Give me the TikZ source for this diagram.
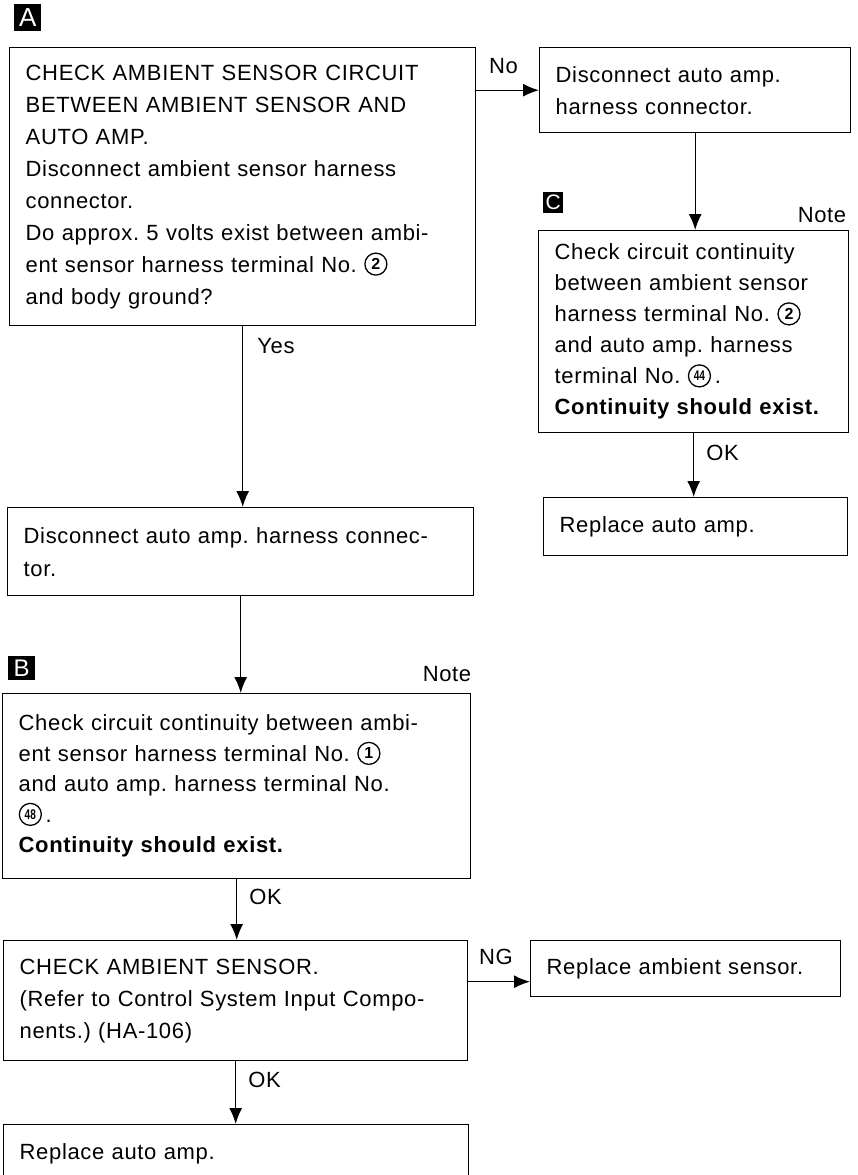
\documentclass[tikz,border=0pt]{standalone}
\usepackage{fontspec}
\usepackage{graphicx}
\setmainfont{Liberation Sans}[LetterSpace=3]
\newfontfamily\cnfont{Liberation Sans}
\usetikzlibrary{arrows.meta}
\newcommand{\cnum}[1]{\tikz[baseline={([yshift=-8pt]cn.center)}]\node[draw,circle,line width=1.3pt,inner sep=0pt,minimum size=22pt,anchor=center,align=center,text width=,fill=none,font=\cnfont\bfseries\fontsize{16}{16}\selectfont](cn){#1};}
\newcommand{\cnumm}[1]{\tikz[baseline={([yshift=-8pt]cn.center)}]\node[draw,circle,line width=1.3pt,inner sep=0pt,minimum size=22pt,anchor=center,align=center,text width=,fill=none,font=\cnfont\bfseries\fontsize{14}{14}\selectfont](cn){\scalebox{0.72}[1]{#1}};}
\tikzset{
  box/.style={draw, line width=1.4pt, anchor=north west, inner xsep=16pt, inner ysep=0pt, align=left, font=\fontsize{22}{32}\selectfont},
  arr/.style={line width=1.4pt, -{Latex[length=16pt,width=13pt]}},
  lbl/.style={font=\fontsize{22}{25}\selectfont, inner sep=0pt},
  tag/.style={fill=black, text=white, inner sep=0pt, anchor=north west, font=\cnfont\fontsize{26}{26}\selectfont},
}
\begin{document}
\frenchspacing
\begin{tikzpicture}[x=1pt,y=-1pt]
\useasboundingbox (0,0) rectangle (857,1175);
\clip (0,0) rectangle (857,1175);

% tags
\node[tag, minimum width=27pt, minimum height=27pt] (tA) at (14,4) {A};
\node[tag, minimum width=27pt, minimum height=24pt, font=\cnfont\fontsize{24}{24}\selectfont] (tB) at (8,656) {B};
\node[tag, minimum width=20pt, minimum height=21pt, font=\cnfont\fontsize{21}{21}\selectfont] (tC) at (543,192) {C};

% boxes
\node[box, minimum width=466pt, minimum height=278pt, text width=434pt] (A) at (9,47) {%
\mbox{CHECK AMBIENT SENSOR CIRCUIT}\\
\mbox{BETWEEN AMBIENT SENSOR AND}\\
\mbox{AUTO AMP.}\\
\mbox{Disconnect ambient sensor harness}\\
\mbox{connector.}\\
\mbox{Do approx. 5 volts exist between ambi-}\\
\mbox{ent sensor harness terminal No. \cnum{2}}\\
\mbox{and body ground?}};

\node[box, minimum width=311pt, minimum height=85pt, text width=279pt] (D) at (539,47) {%
\mbox{Disconnect auto amp.}\\
\mbox{harness connector.}};

\node[box, minimum width=310pt, minimum height=202pt, text width=278pt, font=\fontsize{22}{31}\selectfont] (C) at (538,230) {%
\mbox{Check circuit continuity}\\
\mbox{between ambient sensor}\\
\mbox{harness terminal No. \cnum{2}}\\
\mbox{and auto amp. harness}\\
\mbox{terminal No. \cnumm{44}\,.}\\
\mbox{\bfseries Continuity should exist.}};

\node[box, minimum width=304pt, minimum height=58pt, text width=272pt] (E) at (543,497) {%
\mbox{Replace auto amp.}};

\node[box, minimum width=466pt, minimum height=88pt, text width=434pt, font=\fontsize{22}{33}\selectfont] (F) at (7,507) {%
\mbox{Disconnect auto amp. harness connec-}\\
\mbox{tor.}};

\node[box, minimum width=468pt, minimum height=185pt, text width=436pt, font=\fontsize{22}{30.5}\selectfont] (B) at (2,693) {%
\mbox{Check circuit continuity between ambi-}\\
\mbox{ent sensor harness terminal No. \cnum{1}}\\
\mbox{and auto amp. harness terminal No.}\\
\mbox{\cnumm{48}\,.}\\
\mbox{\bfseries Continuity should exist.}};

\node[box, minimum width=464pt, minimum height=120pt, text width=432pt] (G) at (3,940) {%
\mbox{CHECK AMBIENT SENSOR.}\\
\mbox{(Refer to Control System Input Compo-}\\
\mbox{nents.) (HA-106)}};

\node[box, minimum width=310pt, minimum height=56pt, text width=278pt] (H) at (530,940) {%
\mbox{Replace ambient sensor.}};

\node[box, minimum width=465pt, minimum height=58pt, text width=433pt] (I) at (3,1124) {%
\mbox{Replace auto amp.}};

% notes
\node[lbl, anchor=base east] (nB) at ([yshift=12pt]B.north east) {Note};
\node[lbl, anchor=base east] (nC) at ([xshift=-3pt,yshift=8pt]C.north east) {Note};

% connectors
\draw[arr] (A.east |- D.west) -- node[lbl, pos=0, anchor=base west, xshift=12pt, yshift=17pt] (lNo) {No} (D.west);
\draw[arr] (A.south) -- node[lbl, pos=0, anchor=base west, xshift=14pt, yshift=-27pt] (lYes) {Yes} (A.south |- F.north);
\draw[arr] (D.south) -- (D.south |- C.north);
\draw[arr] (C.south) -- node[lbl, pos=0, anchor=base west, xshift=12pt, yshift=-27pt] (lOK1) {OK} (C.south |- E.north);
\draw[arr] (F.south) -- (F.south |- B.north);
\draw[arr] (B.south) -- node[lbl, pos=0, anchor=base west, xshift=12pt, yshift=-25pt] (lOK2) {OK} (B.south |- G.north);
\coordinate (ng) at ([yshift=-13pt]H.west);
\draw[arr] (G.east |- ng) -- node[lbl, pos=0, anchor=base west, xshift=10pt, yshift=17pt] (lNG) {NG} (ng);
\draw[arr] (G.south) -- node[lbl, pos=0, anchor=base west, xshift=12pt, yshift=-26pt] (lOK3) {OK} (G.south |- I.north);
\end{tikzpicture}
\end{document}
